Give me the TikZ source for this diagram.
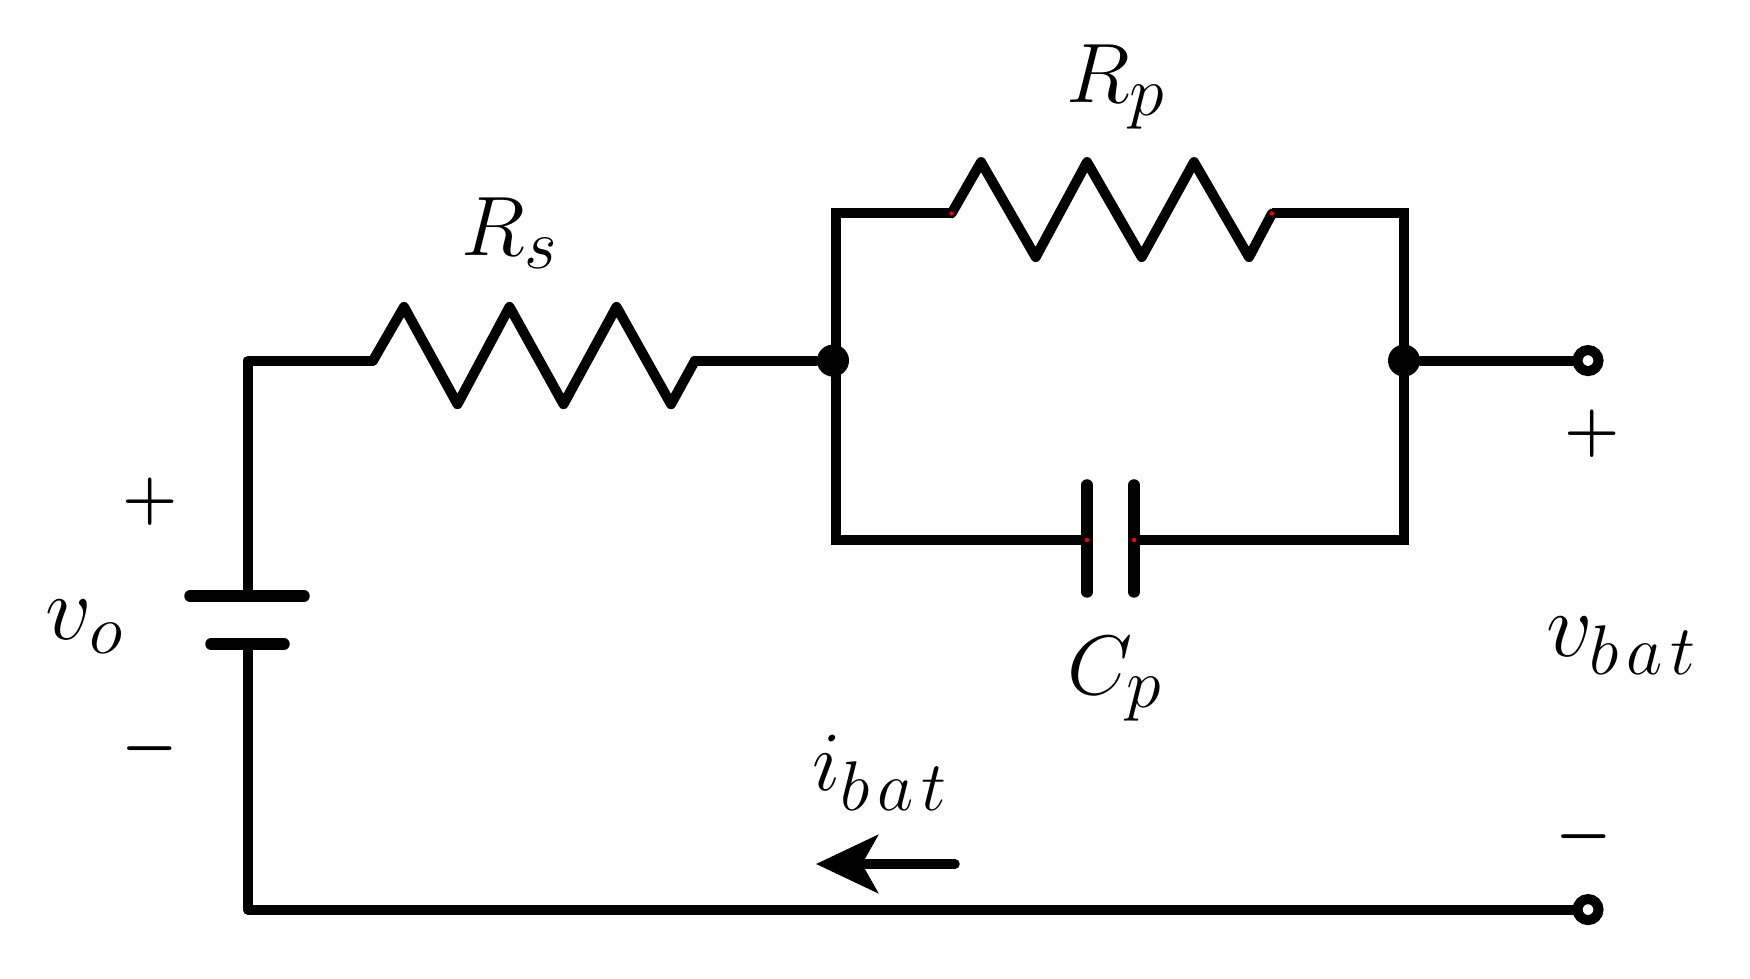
\documentclass[tikz,border=0pt]{standalone}
\usepackage{fix-cm}
\usepackage{tikz}
\usetikzlibrary{arrows.meta}
\DeclareMathSizes{24}{24}{20}{16}
\DeclareMathSizes{26}{26}{20}{16}
\tikzstyle{wire}=[draw,line width=0.1cm,line join=round,line cap=round]
\tikzstyle{frame}=[draw,line width=0.1cm,line join=miter]
\tikzstyle{plate}=[draw,line width=0.115cm,line cap=round]
\tikzstyle{dot}=[circle,fill=black,inner sep=0,minimum size=0.32cm]
\tikzstyle{terminal}=[circle,draw,fill=white,line width=0.1cm,inner sep=0,minimum size=0.21cm]
\tikzstyle{label}=[inner sep=0,font=\fontsize{24}{28}\selectfont]
\tikzstyle{biglabel}=[inner sep=0,font=\fontsize{26}{30}\selectfont]
\tikzstyle{sign}=[inner sep=0,font=\fontsize{18}{22}\selectfont\mathversion{bold}]

\begin{document}
\begin{tikzpicture}
\useasboundingbox (0,0) rectangle (17.5,9.79);

\coordinate (topleft) at (2.48,6.184);
\coordinate (botleft) at (2.48,0.694);
\coordinate (batplus) at (2.48,3.83);
\coordinate (batminus) at (2.48,3.35);
\coordinate (rsleft) at (3.73,6.184);
\coordinate (rsright) at (6.95,6.184);
\coordinate (rpleft) at (9.515,7.655);
\coordinate (rpright) at (12.72,7.655);
\coordinate (cpleft) at (10.87,4.39);
\coordinate (cpright) at (11.34,4.39);
\coordinate (looptl) at (8.355,7.655);
\coordinate (loopbl) at (8.355,4.39);
\coordinate (looptr) at (14.04,7.655);
\coordinate (loopbr) at (14.04,4.39);
\coordinate (arrowtail) at (9.55,1.15);
\coordinate (arrowtip) at (8.16,1.15);

\node[dot] (jleft) at (8.33,6.184) {};
\node[dot] (jright) at (14.04,6.184) {};
\node[terminal] (tplus) at (15.88,6.184) {};
\node[terminal] (tminus) at (15.88,0.694) {};

\node[label] (rs) at (5.1,7.46) {$R_s$};
\node[label] (rp) at (11.16,8.92) {$R_p$};
\node[label] (cp) at (11.15,3.0) {$C_p$};
\node[biglabel] (vo) at (0.85,3.52) {$v_o$};
\node[biglabel] (vbat) at (16.22,3.33) {$v_{b\mkern2mu a\mkern2mu t}$};
\node[label] (ibat) at (8.8,2.06) {$i_{b\mkern2mu a\mkern2mu t}$};

\node[sign] (pleft) at (1.5,4.77) {$+$};
\node[sign] (mleft) at (1.5,2.30) {$-$};
\node[sign] (pright) at (15.92,5.45) {$+$};
\node[sign] (mright) at (15.84,1.42) {$-$};

% battery
\draw[wire] (botleft)--(batminus);
\draw[wire] (batplus)--(topleft)--(rsleft);
\draw[wire] (botleft)--(tminus);
\draw[plate] (1.9,3.83)--(3.04,3.83);
\draw[plate] (2.11,3.35)--(2.84,3.35);

% resistors
\draw[wire] (rsleft)--++(0.31,0.537)--++(0.535,-0.973)--++(0.52,0.973)--++(0.54,-0.973)--++(0.53,0.973)--++(0.545,-0.973)--(rsright);
\draw[wire] (rsright)--(jleft);
\draw[wire] (rpleft)--++(0.295,0.514)--++(0.547,-0.95)--++(0.513,0.95)--++(0.547,-0.95)--++(0.523,0.95)--++(0.55,-0.95)--(rpright);

% parallel branch
\draw[frame] (rpleft)--(looptl)--(loopbl)--(cpleft);
\draw[frame] (rpright)--(looptr)--(loopbr)--(cpright);
\draw[plate] (10.87,3.87)--(10.87,4.94);
\draw[plate] (11.34,3.87)--(11.34,4.94);
\draw[wire] (jright)--(tplus);

\draw[line width=0.095cm,line cap=round,-{Stealth[length=0.62cm,width=0.58cm,inset=0.16cm]}] (arrowtail)--(arrowtip);

\foreach \speck in {rpleft,rpright,cpleft,cpright}
  \fill[red] (\speck) circle (0.022);
\end{tikzpicture}
\end{document}
